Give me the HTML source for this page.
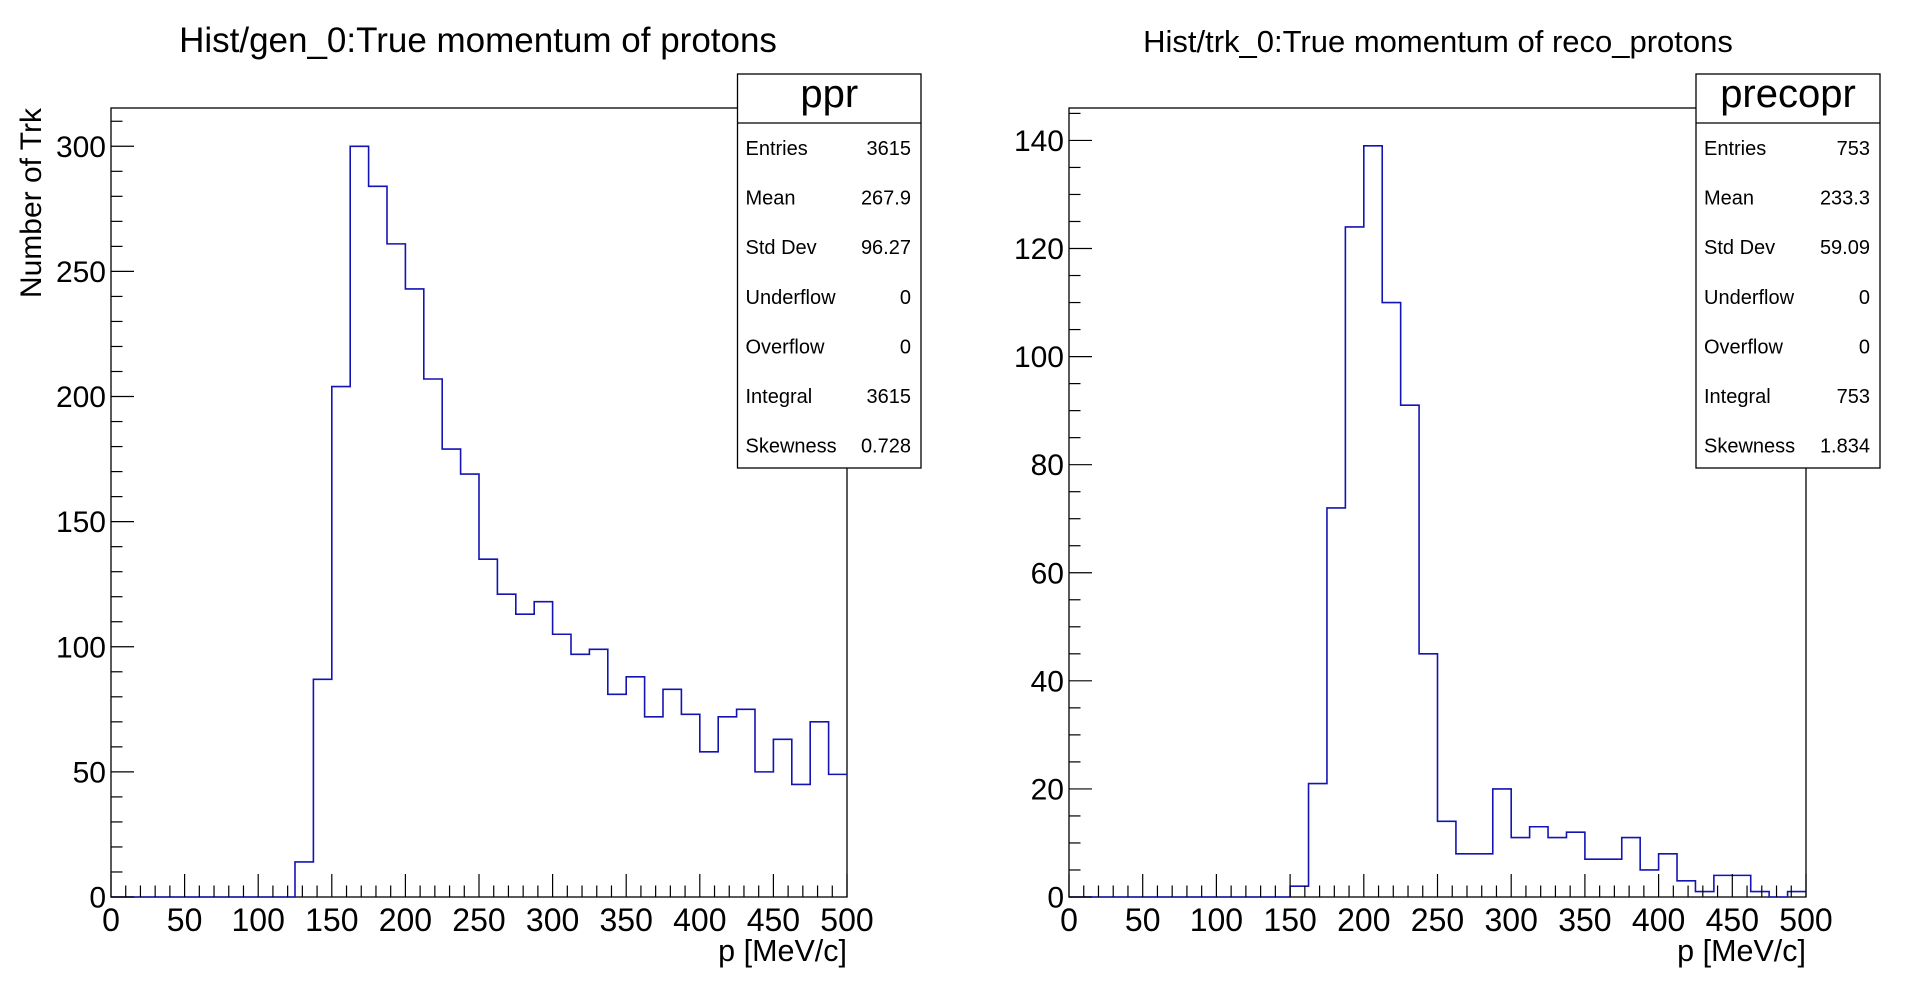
<!DOCTYPE html>
<html><head><meta charset="utf-8">
<style>
html,body{margin:0;padding:0;background:#fff;}
svg{display:block;font-family:"Liberation Sans",sans-serif;}
</style></head>
<body>
<svg id="chart" width="1918" height="1006" viewBox="0 0 1918 1006"></svg>
<script>
const binEdgesMin = 0;
const binEdgesMax = 500;
const genValues = [0,0,0,0,0,0,0,0,0,0,14,87,204,300,284,261,243,207,179,169,135,121,113,118,105,97,99,81,88,72,83,73,58,72,75,50,63,45,70,49];
const trkValues = [0,0,0,0,0,0,0,0,0,0,0,0,2,21,72,124,139,110,91,45,14,8,8,20,11,13,11,12,7,7,11,5,8,3,1,4,4,1,0,1];
const xTickLabels = ["0","50","100","150","200","250","300","350","400","450","500"];
const genYTickLabels = ["0","50","100","150","200","250","300"];
const trkYTickLabels = ["0","20","40","60","80","100","120","140"];
const genStatsLabels = ["Entries","Mean","Std Dev","Underflow","Overflow","Integral","Skewness"];
const genStatsValues = ["3615","267.9","96.27","0","0","3615","0.728"];
const trkStatsLabels = ["Entries","Mean","Std Dev","Underflow","Overflow","Integral","Skewness"];
const trkStatsValues = ["753","233.3","59.09","0","0","753","1.834"];

const NS="http://www.w3.org/2000/svg";
const svg=document.getElementById('chart');
function mk(tag,attrs,parent){const e=document.createElementNS(NS,tag);for(const k in attrs)e.setAttribute(k,attrs[k]);(parent||svg).appendChild(e);return e;}

function panel(cfg){
  const g=mk('g',{});
  
  
  const L=cfg.x0,R=cfg.x1,T=108,B=897;
  const xs=v=>L+(v-binEdgesMin)/(binEdgesMax-binEdgesMin)*(R-L);
  const ys=v=>B-v/cfg.ymax*(B-T);
  const t=mk('text',{x:cfg.titleX,y:52,'font-size':cfg.titleSize,'text-anchor':'middle',fill:'#000'},g);
  t.textContent=cfg.title;
  
  
  const fr=mk('rect',{x:L,y:T,width:R-L,height:B-T,fill:'none',stroke:'#000','stroke-width':1.3},g);
  
  
  const n=cfg.values.length,bw=(binEdgesMax-binEdgesMin)/n;
  let d='M'+xs(binEdgesMin)+','+ys(0);
  for(let i=0;i<n;i++){const a=binEdgesMin+i*bw;d+=' L'+xs(a)+','+ys(cfg.values[i])+' L'+xs(a+bw)+','+ys(cfg.values[i]);}
  const h=mk('path',{d:d,fill:'none',stroke:'#1414b4','stroke-width':1.6},g);
  
  
  for(let v=0;v<=500;v+=10){const maj=v%50===0;mk('line',{x1:xs(v),x2:xs(v),y1:B,y2:B-(maj?23:11.5),stroke:'#000','stroke-width':1.2},g);}
  xTickLabels.forEach(s=>{const v=parseFloat(s);const tx=mk('text',{x:xs(v),y:931,'font-size':32,'text-anchor':'middle'},g);tx.textContent=s;
    
    });
  for(let v=0;v<=cfg.ymax;v+=cfg.minor){const maj=Math.abs(v/cfg.major-Math.round(v/cfg.major))<1e-6;mk('line',{x1:L,x2:L+(maj?23:11.5),y1:ys(v),y2:ys(v),stroke:'#000','stroke-width':1.2},g);}
  cfg.yLabels.forEach(s=>{const v=parseFloat(s);const ty=mk('text',{x:L-5,y:ys(v)+10.5,'font-size':30,'text-anchor':'end'},g);ty.textContent=s;
    
    });
  const xt=mk('text',{x:R,y:961,'font-size':30.5,'text-anchor':'end'},g);xt.textContent='p [MeV/c]';
  
  
  if(cfg.ytitle){const yt=mk('text',{x:0,y:0,'font-size':30,'text-anchor':'end',transform:'translate(41,'+T+') rotate(-90)'},g);yt.textContent=cfg.ytitle;
    
    }
  const sb=mk('g',{},g);
  
  
  const bl=cfg.bx0,br=cfg.bx1;
  mk('rect',{x:bl,y:74,width:br-bl,height:394,fill:'#fff',stroke:'#000','stroke-width':1.3},sb);
  mk('line',{x1:bl,x2:br,y1:123,y2:123,stroke:'#000','stroke-width':1.2},sb);
  const nm=mk('text',{x:(bl+br)/2,y:107,'font-size':40,'text-anchor':'middle'},sb);nm.textContent=cfg.statName;
  
  
  cfg.sl.forEach((s,i)=>{const y=155+i*49.6;
    const a=mk('text',{x:bl+8,y:y,'font-size':20},sb);a.textContent=s;
    
    
    const b=mk('text',{x:br-10,y:y,'font-size':20,'text-anchor':'end'},sb);b.textContent=cfg.sv[i];
    
    });
}
panel({name:'gen-panel',x0:111,x1:847,titleX:478,titleSize:35,title:'Hist/gen_0:True momentum of protons',values:genValues,ymax:315.3,major:50,minor:10,yLabels:genYTickLabels,ytitle:'Number of Trk',bx0:737.5,bx1:921,statName:'ppr',sl:genStatsLabels,sv:genStatsValues});
panel({name:'trk-panel',x0:1069,x1:1806,titleX:1438,titleSize:31,title:'Hist/trk_0:True momentum of reco_protons',values:trkValues,ymax:146,major:20,minor:5,yLabels:trkYTickLabels,ytitle:null,bx0:1696,bx1:1880,statName:'precopr',sl:trkStatsLabels,sv:trkStatsValues});
</script>
</body></html>
